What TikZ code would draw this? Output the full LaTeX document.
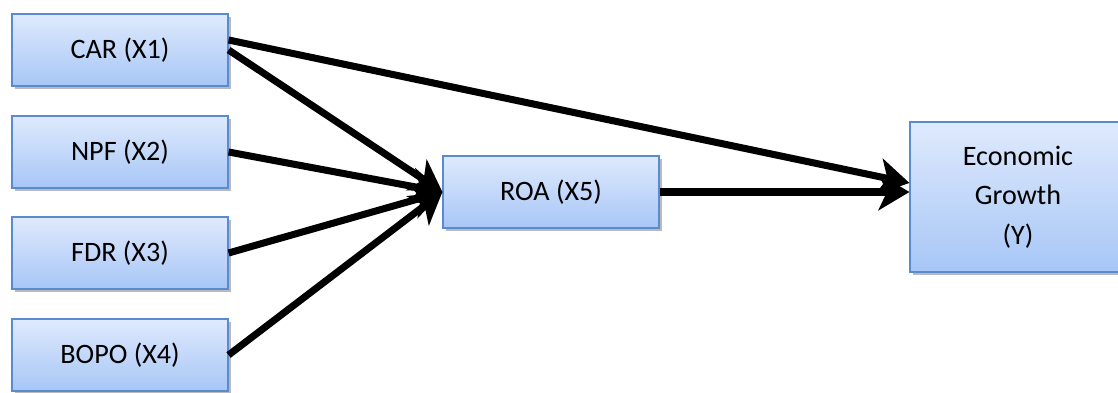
\documentclass[tikz,border=0pt]{standalone}
\usepackage{fontspec}
\setmainfont{Carlito}
\usetikzlibrary{arrows.meta,shadows}
\definecolor{boxtop}{HTML}{DFEAFD}
\definecolor{boxbottom}{HTML}{A7C6F6}
\definecolor{boxline}{HTML}{5A8AD0}

\begin{document}
\begin{tikzpicture}[x=0.025cm,y=-0.025cm,
  var node/.style={rectangle,draw=boxline,line width=0.8pt,
    top color=boxtop,bottom color=boxbottom,
    drop shadow={shadow xshift=2pt,shadow yshift=-2pt,fill=black!45,opacity=0.6},
    minimum width=5.4cm,minimum height=1.8cm,align=center,
    font=\fontsize{20}{28}\selectfont},
  path/.style={line width=5pt,-{Stealth[length=22pt,width=26pt,inset=6pt]}}]
  \useasboundingbox (0,0) rectangle (1118,393);
  \node[var node] (car) at (120,50) {CAR (X1)};
  \node[var node] (npf) at (120,152) {NPF (X2)};
  \node[var node] (fdr) at (120,253) {FDR (X3)};
  \node[var node] (bopo) at (120,355) {BOPO (X4)};
  \node[var node] (roa) at (551,192) {ROA (X5)};
  \node[var node,minimum width=5.4cm,minimum height=3.75cm] (eg) at (1018,197) {Economic\\Growth\\(Y)};

  \draw[path] ([yshift=0.25cm]car.east) -- ([yshift=0.35cm]eg.west);
  \draw[path] (car.east) -- (roa.west);
  \draw[path] (npf.east) -- (roa.west);
  \draw[path] (fdr.east) -- (roa.west);
  \draw[path] (bopo.east) -- (roa.west);
  \draw[path] (roa.east) -- (roa.east -| eg.west);
\end{tikzpicture}
\end{document}
